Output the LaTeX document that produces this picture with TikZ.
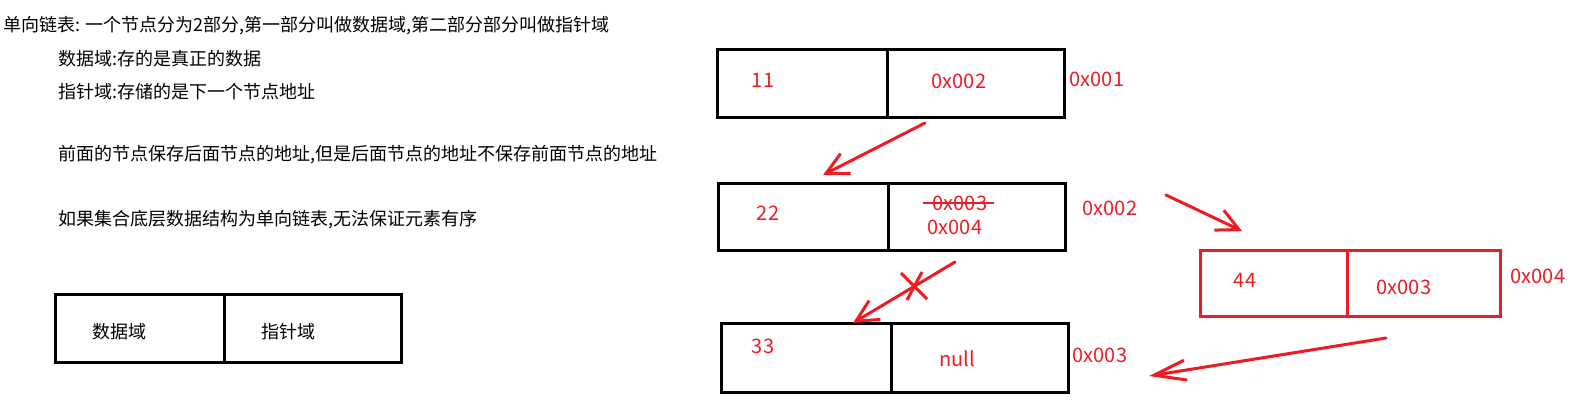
\documentclass[tikz,border=0pt]{standalone}
\usepackage{fontspec}
\setmainfont{Noto Sans CJK SC}
\usetikzlibrary{positioning}
\usetikzlibrary{arrows.meta}
\definecolor{paintred}{RGB}{237,28,36}
\tikzset{
  cell/.style={draw,line width=3pt,inner sep=0pt,outer sep=0pt,anchor=north west},
  note/.style={anchor=west,inner sep=0pt,font=\fontsize{18}{22}\selectfont},
  val/.style={text=paintred,inner sep=0pt,font=\fontsize{20}{24}\selectfont},
  ptr/.style={draw=paintred,line width=3pt,line cap=round,
    -{Straight Barb[length=22pt,width=22pt,line width=3pt]}}
}

\begin{document}
\begin{tikzpicture}[x=1pt,y=-1pt]
  % Boundary
  \path[use as bounding box] (0,0) rectangle (1583,408);
  % Notes
  \node[note] (n1) at (3,26) {单向链表: 一个节点分为2部分,第一部分叫做数据域,第二部分部分叫做指针域};
  \node[note] (n2) at (58,59) {数据域:存的是真正的数据};
  \node[note] (n3) at (58,92) {指针域:存储的是下一个节点地址};
  \node[note] (n4) at (58,155) {前面的节点保存后面节点的地址,但是后面节点的地址不保存前面节点的地址};
  \node[note] (n5) at (58,220) {如果集合底层数据结构为单向链表,无法保证元素有序};
  % Legend
  \node[cell,minimum width=169pt,minimum height=68pt] (ldata) at (55,294) {};
  \node[cell,minimum width=177pt,minimum height=68pt,right=0pt of ldata] (lptr) {};
  \node[note,anchor=center] (ltd) at (119,332) {数据域};
  \node[note,anchor=center] (ltp) at (288,332) {指针域};
  % Node 0x001
  \node[cell,minimum width=170pt,minimum height=68pt] (d1) at (717,49) {};
  \node[cell,minimum width=177pt,minimum height=68pt,right=0pt of d1] (p1) {};
  \node[val] (v1) at (763,80) {11};
  \node[val] (q1) at (959,81) {0x002};
  \node[val] (a1) at (1097,79) {0x001};
  % Node 0x002
  \node[cell,minimum width=170pt,minimum height=67pt] (d2) at (718,183) {};
  \node[cell,minimum width=177pt,minimum height=67pt,right=0pt of d2] (p2) {};
  \node[val] (v2) at (768,213) {22};
  \node[val] (old) at (960,203) {0x003};
  \draw[paintred,line width=2.5pt] ([xshift=-10pt]old.west) -- ([xshift=7pt]old.east);
  \node[val] (q2) at (955,227) {0x004};
  \node[val] (a2) at (1110,208) {0x002};
  % Node 0x003
  \node[cell,minimum width=170pt,minimum height=69pt] (d3) at (721,323) {};
  \node[cell,minimum width=177pt,minimum height=69pt,right=0pt of d3] (p3) {};
  \node[val] (v3) at (763,346) {33};
  \node[val] (q3) at (957,359) {null};
  \node[val] (a3) at (1100,355) {0x003};
  % Node 0x004 (inserted)
  \node[cell,draw=paintred,minimum width=147pt,minimum height=66pt] (d4) at (1200,250) {};
  \node[cell,draw=paintred,minimum width=153pt,minimum height=66pt,right=0pt of d4] (p4) {};
  \node[val] (v4) at (1245,280) {44};
  \node[val] (q4) at (1404,287) {0x003};
  \node[val] (a4) at (1538,276) {0x004};
  % Links
  \coordinate (s1) at (925,123);
  \coordinate (t1) at (823,175);
  \coordinate (s2) at (955,262);
  \coordinate (s3) at (1166,195);
  \coordinate (t3) at (1242,231);
  \coordinate (s4) at (1386,338);
  \coordinate (t4) at (1149,376);
  \coordinate (cut) at (914,286);
  \draw[ptr] (s1) -- (t1);
  \draw[ptr] (s2) -- ([xshift=47pt]d3.north);
  \draw[paintred,line width=3pt] ([shift={(-13,-13)}]cut) -- ([shift={(13,13)}]cut);
  \draw[paintred,line width=3pt] ([shift={(8,-14)}]cut) -- ([shift={(-7,14)}]cut);
  \draw[ptr] (s3) -- (t3);
  \draw[ptr,-{Straight Barb[length=32pt,width=20pt,line width=3pt]}] (s4) -- (t4);
\end{tikzpicture}
\end{document}
